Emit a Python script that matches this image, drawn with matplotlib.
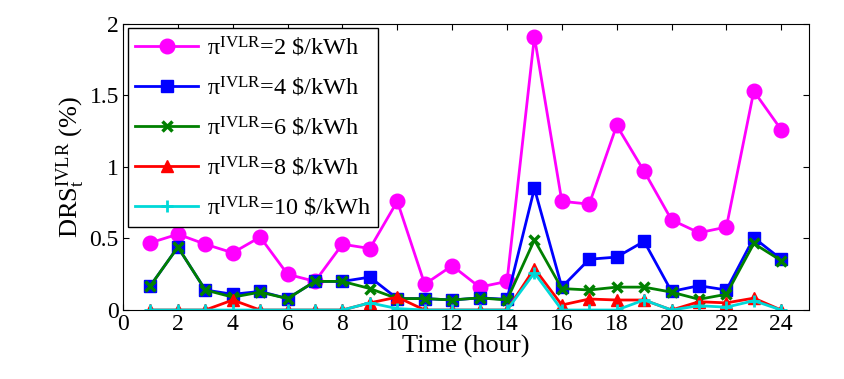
import numpy as np
import matplotlib
matplotlib.use('Agg')
import matplotlib.pyplot as plt

plt.rcParams['font.family'] = 'Liberation Serif'
plt.rcParams['mathtext.fontset'] = 'custom'
plt.rcParams['mathtext.rm'] = 'Liberation Serif'
plt.rcParams['mathtext.it'] = 'Liberation Serif:italic'

hours = np.arange(1, 25)

drs_2 = [0.47, 0.53, 0.46, 0.40, 0.51, 0.25, 0.20, 0.46, 0.43, 0.76, 0.18, 0.31,
         0.16, 0.20, 1.91, 0.76, 0.74, 1.29, 0.97, 0.63, 0.54, 0.58, 1.53, 1.26]
drs_4 = [0.17, 0.44, 0.14, 0.11, 0.13, 0.08, 0.20, 0.20, 0.23, 0.08, 0.08, 0.07,
         0.085, 0.075, 0.85, 0.16, 0.355, 0.37, 0.48, 0.13, 0.17, 0.14, 0.505, 0.355]
drs_6 = [0.17, 0.44, 0.14, 0.09, 0.125, 0.08, 0.20, 0.20, 0.15, 0.08, 0.08, 0.07,
         0.085, 0.07, 0.49, 0.15, 0.14, 0.16, 0.16, 0.125, 0.075, 0.11, 0.465, 0.345]
drs_8 = [0, 0, 0, 0.07, 0, 0, 0, 0, 0.05, 0.09, 0, 0,
         0, 0, 0.29, 0.035, 0.077, 0.07, 0.07, 0, 0.058, 0.05, 0.083, 0]
drs_10 = [0, 0, 0, 0, 0, 0, 0, 0, 0.05, 0.01, 0, 0,
          0, 0, 0.26, 0, 0, 0, 0.07, 0, 0.03, 0.02, 0.065, 0]

labels = [r'π$^{\mathrm{IVLR}}$=2 \$/kWh', r'π$^{\mathrm{IVLR}}$=4 \$/kWh',
          r'π$^{\mathrm{IVLR}}$=6 \$/kWh', r'π$^{\mathrm{IVLR}}$=8 \$/kWh',
          r'π$^{\mathrm{IVLR}}$=10 \$/kWh']

fig = plt.figure(figsize=(8.45, 3.79), dpi=100)
ax = fig.add_axes([0.1456, 0.182, 0.8114, 0.755])

ax.plot(hours, drs_2, '-o', color='#ff00ff', lw=2, ms=10.5, label=labels[0])
ax.plot(hours, drs_4, '-s', color='#0000ff', lw=2, ms=8, label=labels[1])
ax.plot(hours, drs_6, '-x', color='#008000', lw=2, ms=7, mew=2.5, label=labels[2])
ax.plot(hours, drs_8, '-^', color='#ff0000', lw=2, ms=8, label=labels[3])
ax.plot(hours, drs_10, '-+', color='#00d8d8', lw=2, ms=8, mew=2, label=labels[4])

ax.set_xlim(0, 25)
ax.set_ylim(0, 2)
ax.set_xticks(np.arange(0, 25, 2))
ax.set_yticks([0, 0.5, 1, 1.5, 2])
ax.set_yticklabels(['0', '0.5', '1', '1.5', '2'])
ax.tick_params(direction='in', top=True, right=True, labelsize=17, length=4, pad=3)
ax.set_xlabel('Time (hour)', fontsize=19, labelpad=0)
ax.set_ylabel(r'DRS$_{\mathrm{t}}^{\mathrm{IVLR}}$ (%)', fontsize=19, labelpad=2)

leg = ax.legend(loc='upper left', bbox_to_anchor=(0.007, 0.985), fontsize=17.5,
                fancybox=False, edgecolor='black', framealpha=1, borderaxespad=0,
                handlelength=2.6, handletextpad=0.35, labelspacing=0.65,
                borderpad=0.3)
leg.get_frame().set_linewidth(1)

fig.savefig('out.png', dpi=100)
